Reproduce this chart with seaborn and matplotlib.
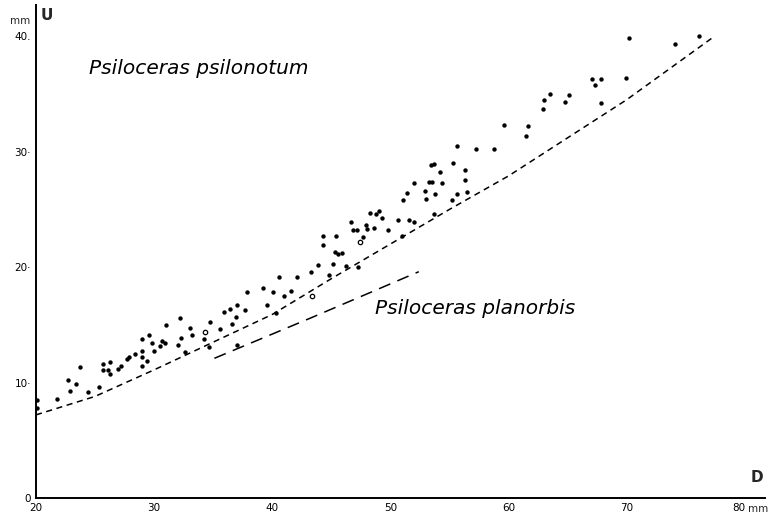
import matplotlib
matplotlib.use("Agg")
import matplotlib.pyplot as plt
import seaborn as sns
import pandas as pd

# Psiloceras psilonotum: diameter D (mm) vs umbilical width U (mm)
d_filled = [20.1, 20.1, 21.75, 22.7, 22.9, 23.4, 23.7, 24.4, 25.3, 25.7, 25.7, 26.1, 26.3, 26.3,
            26.9, 27.2, 27.7, 27.9, 28.4, 29.0, 29.0, 29.0, 29.0, 29.4, 29.6, 29.8, 30.0, 30.5,
            30.7, 30.9, 31.0, 32.0, 32.2, 32.3, 32.6, 33.0, 33.2, 34.2, 34.6, 34.7, 35.6, 35.9,
            36.4, 36.6, 36.9, 37.0, 37.05, 37.7, 37.9, 39.2, 39.55, 40.1, 40.3, 40.6, 41.0, 41.6,
            42.1, 43.3, 43.9, 44.3, 44.3, 44.8, 45.1, 45.3, 45.4, 45.55, 45.9, 46.2, 46.7, 46.85,
            47.2, 47.25, 47.7, 47.9, 48.0, 48.3, 48.6, 48.8, 49.05, 49.3, 49.75, 50.6, 51.0, 51.1,
            51.4, 51.6, 52.0, 52.0, 52.9, 53.0, 53.3, 53.5, 53.4, 53.7, 53.7, 53.8, 54.2, 54.4,
            55.2, 55.3, 55.6, 55.65, 56.3, 56.3, 56.5, 57.2, 58.8, 59.6, 61.6, 61.5, 62.95, 63.0,
            63.5, 64.8, 65.1, 67.1, 67.3, 67.8, 67.85, 69.9, 70.2, 74.1, 76.1]
u_filled = [8.5, 7.8, 8.55, 10.25, 9.3, 9.9, 11.35, 9.2, 9.6, 11.6, 11.1, 11.05, 11.75, 10.7,
            11.15, 11.45, 12.0, 12.2, 12.45, 13.8, 12.75, 12.25, 11.4, 11.9, 14.1, 13.45, 12.75, 13.2,
            13.6, 13.45, 14.98, 13.25, 15.6, 13.9, 12.65, 14.7, 14.1, 13.8, 13.05, 15.25, 14.65, 16.1,
            16.4, 15.05, 15.7, 16.75, 13.25, 16.3, 17.8, 18.15, 16.75, 17.85, 16.05, 19.15, 17.5, 17.9,
            19.1, 19.6, 20.2, 22.7, 21.9, 19.35, 20.3, 21.35, 22.65, 21.1, 21.25, 20.1, 23.9, 23.25,
            23.25, 20.05, 22.6, 23.65, 23.3, 24.7, 23.4, 24.6, 24.85, 24.25, 23.2, 24.1, 22.7, 25.8,
            26.4, 24.1, 27.3, 23.9, 26.6, 25.9, 27.35, 27.4, 28.8, 28.9, 24.6, 26.3, 28.2, 27.3,
            25.8, 29.0, 26.3, 30.5, 28.45, 27.5, 26.5, 30.2, 30.25, 32.3, 32.2, 31.35, 33.7, 34.45,
            35.0, 34.3, 34.9, 36.3, 35.75, 36.3, 34.2, 36.35, 39.85, 39.35, 40.0]
d_open = [34.3, 43.4, 47.4]
u_open = [14.4, 17.5, 22.2]

# Boundary curve of P. psilonotum (dashed)
d_curve = [20.0, 25.0, 30.0, 35.0, 40.0, 45.0, 50.0, 55.0, 60.0, 65.0, 70.0, 77.3]
u_curve = [7.2, 8.8, 11.1, 13.5, 15.9, 19.0, 22.0, 25.0, 27.9, 31.2, 34.5, 39.9]

# Trend of P. planorbis (long dashes)
d_plan = [35.1, 43.5, 52.4]
u_plan = [12.1, 15.7, 19.6]

x_ticks = [20, 30, 40, 50, 60, 70, 80]
x_labels = ["20", "30", "40", "50", "60", "70", "80"]
y_ticks = [0, 10, 20, 30, 40]
y_labels = ["0", "10·", "20·", "30·", "40."]

sns.set_theme(style="white")
plt.rcParams['font.family'] = ['DejaVu Sans']

fig = plt.figure(figsize=(7.68, 5.26), dpi=100)
ax = fig.add_axes([36 / 768, 28 / 526, 729 / 768, 493 / 526])

pts = pd.DataFrame({"D": d_filled, "U": u_filled})
sns.scatterplot(data=pts, x="D", y="U", ax=ax, color="black", s=10, linewidth=0, legend=False)
opn = pd.DataFrame({"D": d_open, "U": u_open})
sns.scatterplot(data=opn, x="D", y="U", ax=ax, facecolor="white", edgecolor="black",
                s=10, linewidth=0.9, legend=False)

cur = pd.DataFrame({"D": d_curve, "U": u_curve})
sns.lineplot(data=cur, x="D", y="U", ax=ax, color="black", linewidth=1.1,
             linestyle=(0, (4, 3)), sort=True)
pl = pd.DataFrame({"D": d_plan, "U": u_plan})
sns.lineplot(data=pl, x="D", y="U", ax=ax, color="black", linewidth=1.1,
             linestyle=(0, (8, 5)), sort=True)

ax.set_xlim(20, 81.7)
ax.set_ylim(0, 42.7)
ax.set_xticks(x_ticks)
ax.set_xticklabels(x_labels)
ax.set_yticks(y_ticks)
ax.set_yticklabels(y_labels)
ax.tick_params(axis="both", which="both", direction="inout", length=5, width=1,
               labelsize=7.5, colors="black", pad=1)
ax.get_xticklabels()[-1].set_horizontalalignment("right")
ax.set_xlabel("")
ax.set_ylabel("")
for side in ["top", "right"]:
    ax.spines[side].set_visible(False)
for side in ["left", "bottom"]:
    ax.spines[side].set_color("black")
    ax.spines[side].set_linewidth(1.4)

ax.text(24.5, 37.2, "Psiloceras psilonotum", fontsize=14.5, style="italic",
        ha="left", va="center", color="black")
ax.text(48.7, 16.45, "Psiloceras planorbis", fontsize=14.5, style="italic",
        ha="left", va="center", color="black")
ax.text(20.4, 41.8, "U", fontsize=11, fontweight="bold", ha="left", va="center")
ax.text(81.0, 1.8, "D", fontsize=11, fontweight="bold", ha="center", va="center")
ax.text(-0.008, 41.3, "mm", fontsize=7.5, ha="right", va="center", transform=ax.get_yaxis_transform())
ax.text(80.3, -0.012, "mm", fontsize=7.5, ha="left", va="top", transform=ax.get_xaxis_transform())

fig.savefig("out.png", dpi=100)
